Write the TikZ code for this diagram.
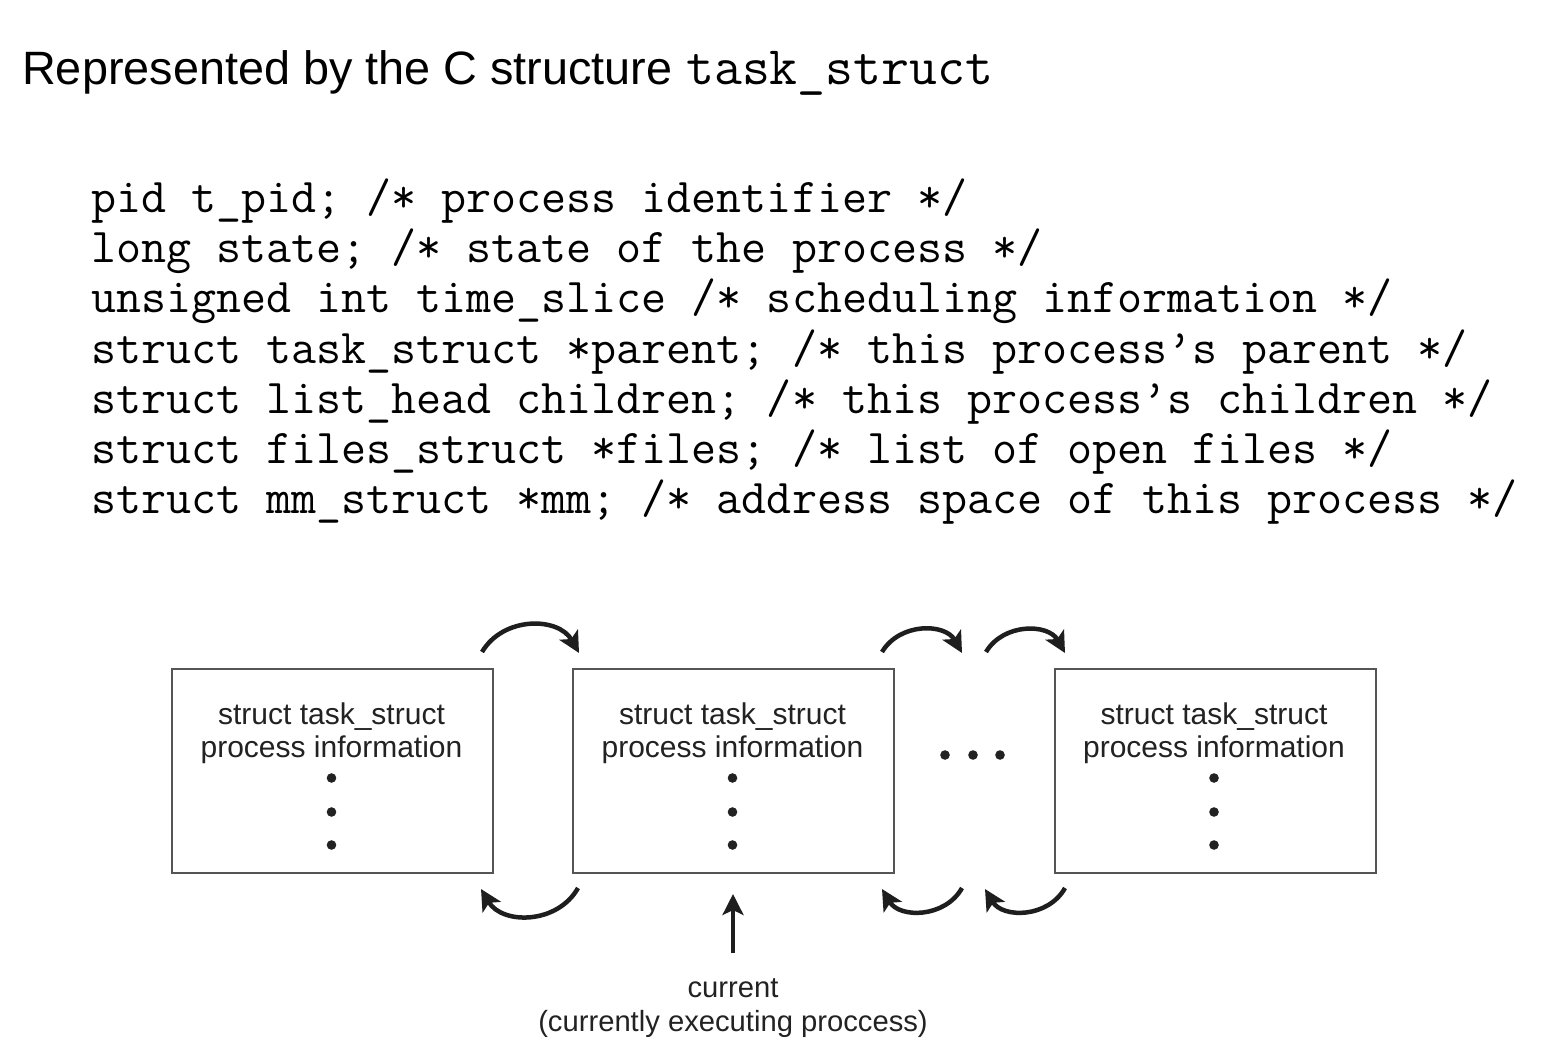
\documentclass[tikz,border=0pt]{standalone}
\usepackage{fontspec}
\setmainfont{Liberation Sans}
\usetikzlibrary{arrows.meta}
\definecolor{txt}{HTML}{222222}
\definecolor{boxline}{HTML}{555555}
\definecolor{arr}{HTML}{1E1E1E}
\tikzset{
  titlesans/.style={font=\fontsize{46.8}{50}\selectfont, inner sep=0pt, anchor=base west},
  titlemono/.style={font=\fontsize{54.2}{56}\selectfont\ttfamily, inner sep=0pt, anchor=base west},
  codeline/.style={font=\fontsize{48.6}{50}\selectfont\ttfamily, inner sep=0pt, anchor=base west},
  tsbox/.style={draw=boxline, line width=1.6pt, minimum width=321pt, minimum height=204pt, anchor=north west, inner sep=0pt},
  boxtext/.style={font=\fontsize{30}{34}\selectfont, text=txt, inner sep=0pt, anchor=base},
  lbltext/.style={font=\fontsize{29.2}{34}\selectfont, text=txt, inner sep=0pt, anchor=base},
  dotc/.style={fill=txt},
  linkarrow/.style={draw=arr, line width=4.5pt, -{Stealth[length=21pt,width=21pt,inset=5pt]}},
}
\begin{document}
\begin{tikzpicture}[x=1pt,y=-1pt]
\useasboundingbox[fill=white] (0,0) rectangle (1552,1048);

% title
\node[titlesans] (title) at (22,85) {Represented by the C structure};
\node[titlemono] (titlecode) at (686,85) {task\_struct};

% code lines
\node[codeline] (c1) at (91,213) {pid t\_pid; /* process identifier */};
\node[codeline] (c2) at (91,263) {long state; /* state of the process */};
\node[codeline] (c3) at (91,313) {unsigned int time\_slice /* scheduling information */};
\node[codeline] (c4) at (91,363) {struct task\_struct *parent; /* this process’s parent */};
\node[codeline] (c5) at (91,413) {struct list\_head children; /* this process’s children */};
\node[codeline] (c6) at (91,463) {struct files\_struct *files; /* list of open files */};
\node[codeline] (c7) at (91,513) {struct mm\_struct *mm; /* address space of this process */};

% boxes
\node[tsbox] (b1) at (171,668) {};
\node[tsbox] (b2) at (572,668) {};
\node[tsbox] (b3) at (1054,668) {};

\foreach \n/\cx in {1/331.5, 2/732.5, 3/1214} {
  \node[boxtext] (t\n a) at (\cx,724) {struct task\_struct};
  \node[boxtext] (t\n b) at (\cx,757) {process information};
  \fill[dotc] (\cx,778) circle (4.8pt);
  \fill[dotc] (\cx,812) circle (4.8pt);
  \fill[dotc] (\cx,845) circle (4.8pt);
}

% ellipsis
\fill[dotc] (945,755) circle (4.8pt);
\fill[dotc] (973,755) circle (4.8pt);
\fill[dotc] (1000,755) circle (4.8pt);

% link arrows (top: forward)
\coordinate (f1s) at (482,652); \coordinate (f1e) at (579,653);
\coordinate (f2s) at (882,652); \coordinate (f2e) at (962,653);
\coordinate (f3s) at (986,652); \coordinate (f3e) at (1065,653);
\draw[linkarrow] (f1s) to[bend left=60, looseness=1.1] (f1e);
\draw[linkarrow] (f2s) to[bend left=60, looseness=1.1] (f2e);
\draw[linkarrow] (f3s) to[bend left=60, looseness=1.1] (f3e);

% link arrows (bottom: backward)
\coordinate (r1s) at (578,888); \coordinate (r1e) at (481,889);
\coordinate (r2s) at (962,888); \coordinate (r2e) at (882,889);
\coordinate (r3s) at (1065,888); \coordinate (r3e) at (985,889);
\draw[linkarrow] (r1s) to[bend left=60, looseness=1.1] (r1e);
\draw[linkarrow] (r2s) to[bend left=60, looseness=1.1] (r2e);
\draw[linkarrow] (r3s) to[bend left=60, looseness=1.1] (r3e);

% current pointer
\node[lbltext] (cur) at (733,997) {current};
\node[lbltext] (curdesc) at (733,1031) {(currently executing proccess)};
\coordinate (curtail) at (733,953);
\coordinate (curtip) at (733,894);
\draw[linkarrow] (curtail) -- (curtip);
\end{tikzpicture}
\end{document}
